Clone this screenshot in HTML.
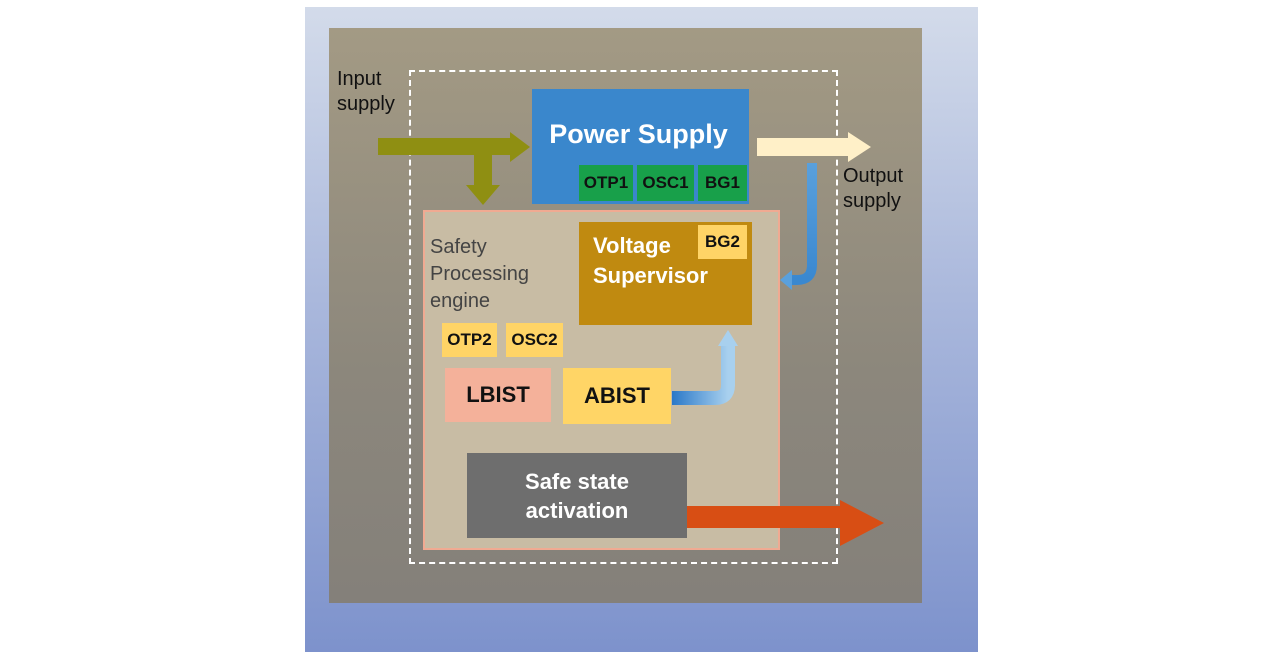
<!DOCTYPE html>
<html><head><meta charset="utf-8"><style>
body{margin:0;width:1280px;height:660px;background:#fff;position:relative;overflow:hidden;font-family:"Liberation Sans",Arial,sans-serif}
div{position:absolute;box-sizing:border-box}
.c{display:flex;align-items:center;justify-content:center;text-align:center;font-weight:bold}
</style></head><body>
<div style="left:305px;top:7px;width:673px;height:645px;background:linear-gradient(#d3dbea,#aab8dc 45%,#7d92cc)"></div>
<div style="left:329px;top:28px;width:593px;height:575px;background:linear-gradient(#a39a84,#8c877c 60%,#84807a)"></div>
<div style="left:409px;top:70px;width:429px;height:494px;border:2px dashed #fff"></div>
<div style="left:337px;top:67px;font-size:20px;color:#111;line-height:25px">Input<br>supply</div>
<div style="left:843px;top:164px;font-size:20px;color:#111;line-height:25px">Output<br>supply</div>
<div class="c" style="left:532px;top:89px;width:217px;height:115px;background:#3a87cc;color:#fff;font-size:27px;align-items:flex-start;padding-top:30px;padding-right:4px">Power Supply</div>
<div class="c" style="left:579px;top:165px;width:54px;height:36px;background:#18a04a;font-size:17px;color:#111">OTP1</div>
<div class="c" style="left:637px;top:165px;width:57px;height:36px;background:#18a04a;font-size:17px;color:#111">OSC1</div>
<div class="c" style="left:698px;top:165px;width:49px;height:36px;background:#18a04a;font-size:17px;color:#111">BG1</div>
<div style="left:423px;top:210px;width:357px;height:340px;background:#c8bca4;border:2px solid #f0aa92"></div>
<div style="left:430px;top:234px;font-size:20px;color:#444;line-height:27px">Safety<br>Processing<br>engine</div>
<div style="left:579px;top:222px;width:173px;height:103px;background:#c08a10"></div>
<div style="left:593px;top:231px;font-size:22px;font-weight:bold;color:#fff;line-height:30px">Voltage<br>Supervisor</div>
<div class="c" style="left:698px;top:225px;width:49px;height:34px;background:#ffd466;font-size:17px;color:#111">BG2</div>
<div class="c" style="left:442px;top:323px;width:55px;height:34px;background:#ffd466;font-size:17px;color:#111">OTP2</div>
<div class="c" style="left:506px;top:323px;width:57px;height:34px;background:#ffd466;font-size:17px;color:#111">OSC2</div>
<div class="c" style="left:445px;top:368px;width:106px;height:54px;background:#f4b19a;font-size:22px;color:#111">LBIST</div>
<div class="c" style="left:563px;top:368px;width:108px;height:56px;background:#ffd566;font-size:22px;color:#111">ABIST</div>
<div class="c" style="left:467px;top:453px;width:220px;height:85px;background:#6e6e6e;color:#fff;font-size:22px;line-height:29px">Safe state<br>activation</div>
<svg width="1280" height="660" style="position:absolute;left:0;top:0">
<defs>
<linearGradient id="b1" x1="0" y1="0" x2="1" y2="0"><stop offset="0" stop-color="#2a78c8"/><stop offset="1" stop-color="#a8d0ee"/></linearGradient>
<linearGradient id="b2" x1="0" y1="0" x2="0" y2="1"><stop offset="0" stop-color="#5aa0dc"/><stop offset="1" stop-color="#3a88d0"/></linearGradient>
</defs>
<polygon points="378,138 510,138 510,132 530,147 510,162 510,155 378,155" fill="#8f8f12"/>
<polygon points="474,155 492,155 492,185 500,185 483,205 466,185 474,185" fill="#8f8f12"/>
<polygon points="757,138 848,138 848,132 871,147 848,162 848,156 757,156" fill="#fff0c8"/>
<path d="M812,163 L812,265 Q812,280 797,280 L790,280" stroke="url(#b2)" stroke-width="10" fill="none"/>
<polygon points="792,270 780,280 792,290" fill="#5aa0dc"/>
<path d="M672,398 L715,398 Q728,398 728,385 L728,345" stroke="url(#b1)" stroke-width="14" fill="none"/>
<polygon points="718,346 728,330 738,346" fill="#a8d0ee"/>
<polygon points="687,506 840,506 840,500 884,523 840,546 840,528 687,528" fill="#d84e14"/>
</svg>
</body></html>
